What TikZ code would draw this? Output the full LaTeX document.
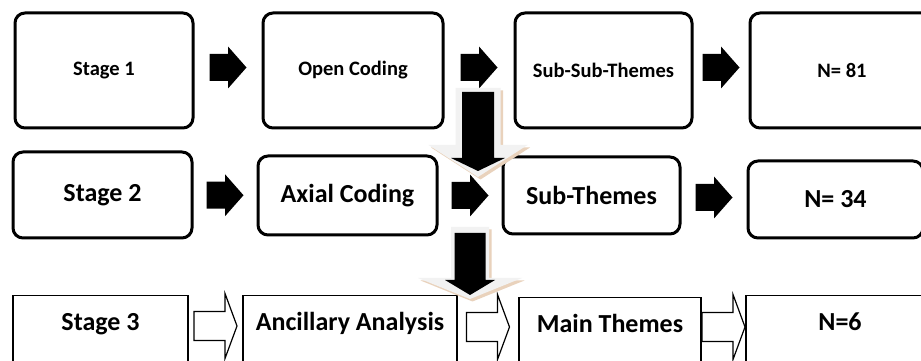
\documentclass[tikz,border=0pt]{standalone}
\usepackage{fontspec}
\setmainfont{Carlito}
\usetikzlibrary{calc}

\begin{document}
\begin{tikzpicture}[x=1pt, y=1pt,
  toprow/.style={draw, line width=3pt, rounded corners=10pt, font=\fontsize{20.5}{24}\selectfont\bfseries},
  midrow/.style={toprow, font=\fontsize{26}{30}\selectfont\bfseries},
  lowrow/.style={draw, line width=1.2pt, anchor=north, inner ysep=4pt, text height=31pt, text depth=41pt, font=\fontsize{26}{30}\selectfont\bfseries},
  solidarrow/.pic={\fill (-18.5,-13.5) -- (0,-13.5) -- (0,-21) -- (18.5,0) -- (0,21) -- (0,13.5) -- (-18.5,13.5) -- cycle;},
  hollowarrow/.pic={\filldraw[fill=white, line width=1.2pt] (-21.5,-14.5) -- (9.5,-14.5) -- (9.5,-32.5) -- (21.5,0) -- (9.5,32.5) -- (9.5,14.5) -- (-21.5,14.5) -- cycle;}]
  \useasboundingbox (0,0) rectangle (921,361);
  \clip (0,0) rectangle (921,361);
  \fill[white] (0,0) rectangle (921,361);

  % first stage
  \node[toprow, minimum width=178pt, minimum height=115pt] (st1) at (104,290.5) {Stage 1};
  \node[toprow, minimum width=180pt, minimum height=115pt] (oc) at (353,290.5) {Open Coding};
  \node[toprow, minimum width=177pt, minimum height=115pt] (ssth) at (603.5,290.5) {Sub-Sub-Themes};
  \node[toprow, minimum width=184pt, minimum height=115pt] (n81) at (842,290.5) {N= 81};

  % second stage
  \node[midrow, minimum width=179pt, minimum height=86pt] (st2) at (102.5,166) {Stage 2};
  \node[midrow, minimum width=179pt, minimum height=79pt] (ax) at (347.5,165.5) {Axial Coding};
  \node[midrow, minimum width=177pt, minimum height=77pt] (sth) at (591.5,165.5) {Sub-Themes};
  \node[midrow, minimum width=175pt, minimum height=77pt] (n34) at (835.5,161.5) {N= 34};

  % third stage
  \node[lowrow, minimum width=175pt] (st3) at (100.5,66) {Stage 3};
  \node[lowrow, minimum width=214pt] (anc) at (350,66) {Ancillary Analysis};
  \node[lowrow, minimum width=182pt] (mth) at (610,64) {Main Themes};
  \node[lowrow, minimum width=188pt] (n6) at (840,66) {N=6};

  % block arrows along the rows
  \foreach \a/\b in {st1/oc, oc/ssth, ssth/n81}
    \pic[yshift=3pt] at ($(\a.east)!.5!(\b.west)$) {solidarrow};
  \foreach \a/\b in {st2/ax, ax/sth, sth/n34}
    \pic at ($(\a.east)!.5!(\b.west)$) {solidarrow};
  \foreach \a/\b in {st3/anc, anc/mth, mth/n6}
    \pic at ($(\a.north east)!.5!(\b.north west)+(0,-31)$) {hollowarrow};

  % down arrows from one stage to the next
  \coordinate (d1) at ($(oc.east)!.5!(ssth.west)+(-1,-17.5)$);
  \begin{scope}[shift={(d1)}]
    \fill[brown!35, shift={(2.5,-2.5)}] (-22.5,0) -- (22.5,0) -- (22.5,-57) -- (49.5,-57) -- (0,-89) -- (-49.5,-57) -- (-22.5,-57) -- cycle;
    \fill[gray!10] (-22.5,0) -- (22.5,0) -- (22.5,-57) -- (49.5,-57) -- (0,-89) -- (-49.5,-57) -- (-22.5,-57) -- cycle;
    \fill (-16,-4) -- (16,-4) -- (16,-70) -- (27,-70) -- (0,-83) -- (-27,-70) -- (-16,-70) -- cycle;
  \end{scope}
  \coordinate (d2) at ($(ax.east)!.5!(sth.west)+(0,-31.5)$);
  \begin{scope}[shift={(d2)}]
    \fill[brown!35, shift={(2.5,-2.5)}] (-19,0) -- (19,0) -- (19,-51) -- (52,-51) -- (0,-72) -- (-52,-51) -- (-19,-51) -- cycle;
    \fill[gray!10] (-19,0) -- (19,0) -- (19,-51) -- (52,-51) -- (0,-72) -- (-52,-51) -- (-19,-51) -- cycle;
    \fill (-15.5,-6) -- (15.5,-6) -- (15.5,-53) -- (25,-53) -- (0,-68) -- (-25,-53) -- (-15.5,-53) -- cycle;
  \end{scope}
\end{tikzpicture}
\end{document}
